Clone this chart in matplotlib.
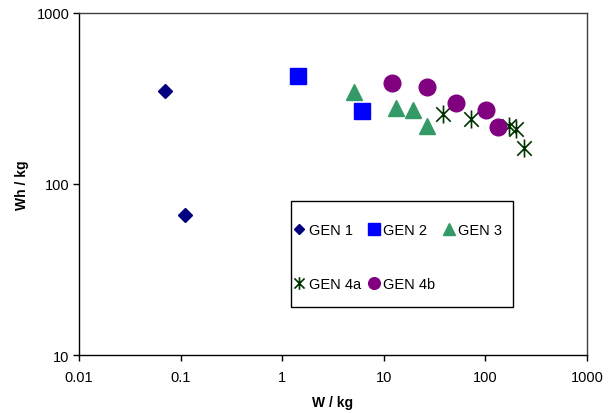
import matplotlib
matplotlib.use("Agg")
import matplotlib.pyplot as plt
from matplotlib.path import Path
from matplotlib.patches import Rectangle

plt.rcParams['font.family'] = ['Liberation Sans', 'DejaVu Sans']

# Data (W/kg, Wh/kg)
gen1_x = [0.070, 0.111]
gen1_y = [351, 66]
gen2_x = [1.42, 6.1]
gen2_y = [426, 266]
gen3_x = [5.1, 13.3, 19.2, 26.4]
gen3_y = [344, 277, 271, 219]
gen4a_x = [38.0, 72.1, 171, 200, 241]
gen4a_y = [256, 240, 218, 210, 162]
gen4b_x = [12.1, 26.6, 51.0, 102, 132]
gen4b_y = [390, 367, 298, 271, 215]

x_ticks = [0.01, 0.1, 1, 10, 100, 1000]
x_tick_labels = ['0.01', '0.1', '1', '10', '100', '1000']
y_ticks = [10, 100, 1000]
y_tick_labels = ['10', '100', '1000']

# star marker: x plus vertical line
star_path = Path([(-1, -1), (1, 1), (-1, 1), (1, -1), (0, -1.25), (0, 1.25)],
                 [Path.MOVETO, Path.LINETO, Path.MOVETO, Path.LINETO, Path.MOVETO, Path.LINETO])

W, H = 614, 414
fig = plt.figure(figsize=(W / 100, H / 100), dpi=100)
ax = fig.add_axes([79 / W, 1 - 356 / H, (587 - 79) / W, (356 - 14) / H])

ax.set_xscale('log')
ax.set_yscale('log')
ax.set_xlim(0.01, 1000)
ax.set_ylim(10, 1000)

h1, = ax.plot(gen1_x, gen1_y, ls='none', marker='D', ms=7.6, color='#000080', label='GEN 1')
h2, = ax.plot(gen2_x, gen2_y, ls='none', marker='s', ms=11.5, color='#0000FF', label='GEN 2')
h3, = ax.plot(gen3_x, gen3_y, ls='none', marker='^', ms=11.5, color='#339966', label='GEN 3')
h4a, = ax.plot(gen4a_x, gen4a_y, ls='none', marker=star_path, ms=13, mew=1.2,
               color='#003300', label='GEN 4a')
h4b, = ax.plot(gen4b_x, gen4b_y, ls='none', marker='o', ms=12, color='#800080', label='GEN 4b')

ax.set_xticks(x_ticks)
ax.set_xticklabels(x_tick_labels)
ax.set_yticks(y_ticks)
ax.set_yticklabels(y_tick_labels)
ax.minorticks_off()
ax.tick_params(axis='both', which='major', direction='out', length=4, width=1,
               labelsize=10.5, colors='black', pad=3)
ax.xaxis.set_tick_params(pad=7)

for side in ['left', 'bottom']:
    ax.spines[side].set_color('black')
    ax.spines[side].set_linewidth(1)
for side in ['top', 'right']:
    ax.spines[side].set_color('#404040')
    ax.spines[side].set_linewidth(1)

ax.set_xlabel('W / kg', fontsize=10, fontweight='bold', labelpad=8)
ax.set_ylabel('Wh / kg', fontsize=10, fontweight='bold', labelpad=5)

# legend box drawn separately
fig.patches.append(Rectangle((291 / W, 1 - 308 / H), (513 - 291) / W, (308 - 202) / H,
                             transform=fig.transFigure, fill=False,
                             edgecolor='black', linewidth=1, zorder=5))

handles = [h1, h4a, h2, h4b, h3]
labels = [h.get_label() for h in handles]
leg = ax.legend(handles, labels, ncol=3, loc='upper left',
                bbox_to_anchor=(294 / W, 1 - 224 / H), bbox_transform=fig.transFigure,
                frameon=False, fontsize=10.5,
                markerscale=0.7, handlelength=0.7, handletextpad=0.3,
                columnspacing=0.55, labelspacing=2.73, borderpad=0, borderaxespad=0)

fig.savefig('out.png', dpi=100)
